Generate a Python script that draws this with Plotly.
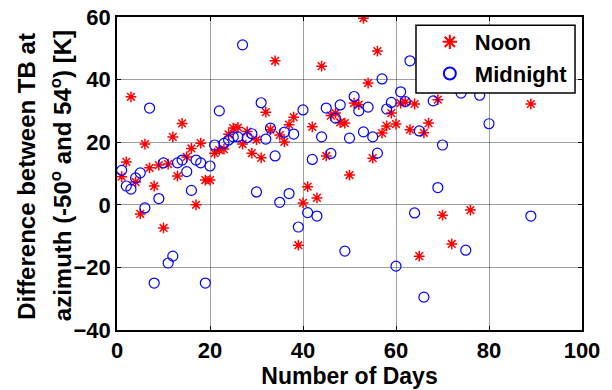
import plotly.graph_objects as go

noon_days = [1, 2, 3, 4, 5, 6, 7, 8, 9, 10, 11, 12, 13, 14, 15, 16, 17, 18, 19, 20,
             21, 22, 23, 24, 25, 26, 27, 28, 29, 30, 31, 32, 33, 34, 35, 36, 37, 38, 39, 40,
             41, 42, 43, 44, 45, 46, 47, 48, 49, 50, 51, 52, 53, 54, 55, 56, 57, 58, 59, 60,
             61, 62, 63, 64, 65, 66, 67, 69, 70, 72, 76, 89]
noon_diff = [9, 13.7, 34.5, 7.3, -2.9, 19.4, 11.8, 6, 12.7, -7.4, 13, 21.7, 9.2, 26, 15.3, 18, 0, 19.7, 7.9, 7.9,
             16.5, 17.5, 17.8, 22.5, 24.5, 24.7, 19.4, 23.4, 16.5, 20.8, 15, 29.6, 24, 46, 22.3, 20.1, 25.6, 28, -12.9, 0.6,
             5.8, 24.9, 2.2, 44.3, 15.6, 28.5, 29.3, 26.3, 26.1, 9.5, 32.5, 32, 59.6, 38.9, 14.9, 49.1, 22.9, 25.2, 29.3, 25.8,
             32.5, 32.8, 24, 32.2, -16.4, 23, 26.1, 33.6, -3.3, -12.5, -1.7, 32.2]

midnight_days = [1, 2, 3, 4, 5, 6, 7, 8, 9, 10, 11, 12, 13, 14, 15, 16, 17, 18, 19, 20,
                 21, 22, 23, 24, 25, 26, 27, 28, 29, 30, 31, 32, 33, 34, 35, 36, 37, 38, 39, 40,
                 41, 42, 43, 44, 45, 46, 47, 48, 49, 50, 51, 52, 53, 54, 55, 56, 57, 58, 59, 60,
                 61, 62, 63, 64, 65, 66, 68, 69, 70, 74, 75, 78, 80, 89]
midnight_diff = [11, 6, 5, 8.6, 10.2, -1, 30.9, -25, 2, 13.4, -18.6, -16.4, 13.4, 14.3, 10.6, 4.6, 14.3, 13.4, -25, 12.4,
                 19.1, 30, 19.6, 20.7, 21.7, 21.7, 51.1, 21.5, 22.7, 4.1, 32.6, 21, 24.5, 15.6, 0.8, 23.2, 3.6, 22.6, -7.1, 30.3,
                 -2.5, 14.5, -3.6, 21.7, 30.9, 16.4, 27.7, 31.9, -14.8, 21.3, 34.6, 30, 23.3, 31.2, 21.7, 16.5, 40.2, 30.6, 32.7, -19.6,
                 36.1, 33, 46, -2.6, 23.6, -29.5, 33.2, 5.5, 19.1, 35.7, -14.5, 35, 25.9, -3.6]

x_ticks = [0, 20, 40, 60, 80, 100]
y_ticks = [-40, -20, 0, 20, 40, 60]

x_title = "Number of Days"
y_title_lines = ["Difference between TB at",
                 "azimuth (-50<sup>o</sup> and 54<sup>o</sup>) [K]"]

FONT = "Arial, Liberation Sans, sans-serif"

fig = go.Figure()
fig.add_trace(go.Scatter(
    x=noon_days, y=noon_diff, mode="markers", name="Noon",
    marker=dict(symbol="asterisk-open", size=9, color="red", line=dict(color="red", width=1.5)),
))
fig.add_trace(go.Scatter(
    x=midnight_days, y=midnight_diff, mode="markers", name="Midnight",
    marker=dict(symbol="circle-open", size=10, color="blue", line=dict(color="blue", width=1.2)),
))

axis_common = dict(
    showgrid=True, gridcolor="rgba(0,0,0,0.38)", gridwidth=1,
    zeroline=False, showline=True, linecolor="black", linewidth=1.5, mirror="ticks",
    ticks="inside", ticklen=4, tickcolor="black", automargin=False,
    tickfont=dict(family=FONT, size=22, color="black", weight="bold"),
)

# legend frame (white box drawn over the data, like the reference)
fig.add_shape(type="rect", xref="paper", yref="paper",
              x0=0.643, x1=0.985, y0=0.757, y1=0.974,
              line=dict(color="black", width=1.5), fillcolor="white", layer="above")

# two-line y-axis title
for xpos, line in zip([-0.196, -0.120], y_title_lines):
    fig.add_annotation(text=line, xref="paper", yref="paper", x=xpos, y=0.492,
                       textangle=-90, showarrow=False, xanchor="center", yanchor="middle",
                       font=dict(family=FONT, size=24, color="black", weight="bold"))

fig.update_layout(
    width=612, height=390,
    margin=dict(l=117, r=30, t=17, b=60, autoexpand=False),
    paper_bgcolor="white", plot_bgcolor="white",
    showlegend=True,
    legend=dict(
        x=0.662, y=0.987, xanchor="left", yanchor="top",
        bgcolor="rgba(0,0,0,0)", borderwidth=0,
        font=dict(family=FONT, size=22, color="black", weight="bold"),
        itemsizing="constant", itemwidth=40,
    ),
    xaxis=dict(
        range=[0, 100], tickvals=x_ticks,
        title=dict(text=x_title, standoff=6,
                   font=dict(family=FONT, size=23, color="black", weight="bold")),
        **axis_common,
    ),
    yaxis=dict(
        range=[-40, 60], tickvals=y_ticks,
        **axis_common,
    ),
)

fig.write_html("out.html")
